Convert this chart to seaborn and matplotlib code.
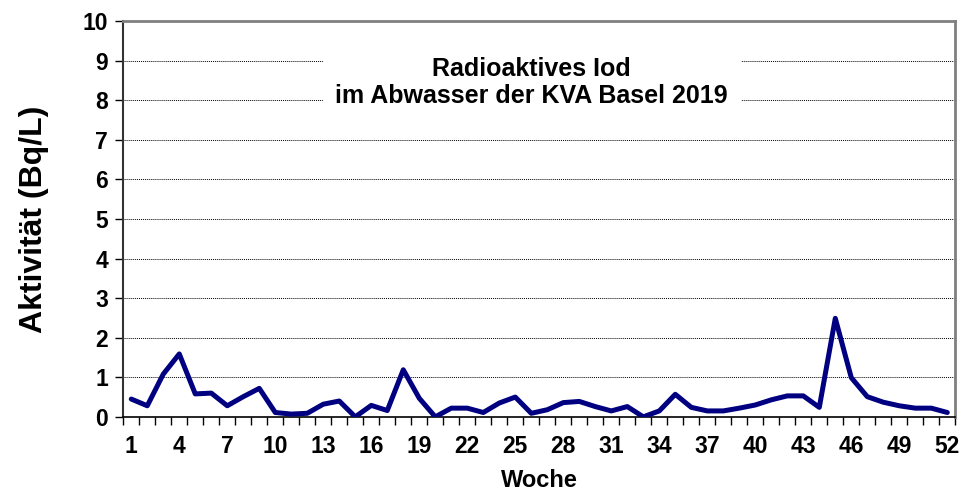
import numpy as np
import pandas as pd
import matplotlib
matplotlib.use("Agg")
import matplotlib.pyplot as plt
import seaborn as sns
from matplotlib.ticker import FixedLocator

# Weekly values
weeks = list(range(1, 53))
activity = [
    0.45, 0.28, 1.08, 1.59, 0.58, 0.60, 0.28, 0.51, 0.72, 0.11,
    0.07, 0.09, 0.32, 0.40, 0.00, 0.29, 0.16, 1.19, 0.47, 0.00,
    0.22, 0.22, 0.11, 0.35, 0.50, 0.09, 0.18, 0.36, 0.39, 0.26,
    0.15, 0.26, 0.00, 0.15, 0.57, 0.24, 0.15, 0.15, 0.22, 0.30,
    0.43, 0.53, 0.53, 0.24, 2.49, 0.99, 0.51, 0.37, 0.28, 0.22,
    0.22, 0.11,
]
x_labels = list(range(1, 53, 3))
y_ticks = list(range(0, 11))

df = pd.DataFrame({"Woche": weeks, "Aktivitaet": activity})

sns.set_style("white", {"text.color": "black", "axes.labelcolor": "black",
                        "xtick.color": "black", "ytick.color": "black"})
plt.rcParams["font.family"] = ["Liberation Sans", "DejaVu Sans"]
plt.rcParams["font.weight"] = "bold"

fig = plt.figure(figsize=(9.63, 4.91), dpi=100)
ax = fig.add_axes([0.128, 0.151, 0.864, 0.806])

sns.lineplot(data=df, x="Woche", y="Aktivitaet", color="#000080",
             linewidth=3.6, ax=ax, zorder=3)

ax.set_xlim(0.5, 52.5)
ax.set_ylim(0, 10)

# category-style x axis: tick marks between weeks, labels every 3rd week
ax.xaxis.set_major_locator(FixedLocator(x_labels))
ax.xaxis.set_minor_locator(FixedLocator(np.arange(0.5, 53, 1)))
ax.tick_params(axis="x", which="major", length=0, pad=13, labelsize=16.5)
ax.tick_params(axis="x", which="minor", length=6, width=1, color="black",
               direction="out", bottom=True)
ax.set_yticks(y_ticks)
ax.tick_params(axis="y", length=6, width=1, color="black", direction="out",
               left=True, labelsize=16.5, pad=5)
for lab in ax.get_xticklabels() + ax.get_yticklabels():
    lab.set_fontweight("bold")

for y in y_ticks[1:-1]:
    ax.axhline(y, color="black", linestyle=(0, (1, 1)), linewidth=0.7, zorder=1)

for side in ["top", "right"]:
    ax.spines[side].set_color("#808080")
    ax.spines[side].set_linewidth(2)
ax.spines["left"].set_color("#333333")
ax.spines["left"].set_linewidth(1.5)
ax.spines["bottom"].set_color("black")
ax.spines["bottom"].set_linewidth(1.2)

ax.set_xlabel("Woche", fontsize=17, fontweight="bold", labelpad=8)
ax.set_ylabel("Aktivität (Bq/L)", fontsize=23, fontweight="bold", labelpad=24)

ax.text(0.491, 8.45, "Radioaktives Iod\nim Abwasser der KVA Basel 2019",
        transform=ax.get_yaxis_transform(), ha="center", va="center",
        fontsize=18, fontweight="bold", linespacing=1.15, zorder=4,
        bbox=dict(facecolor="white", edgecolor="none", pad=9))

fig.savefig("out.png", dpi=100)
